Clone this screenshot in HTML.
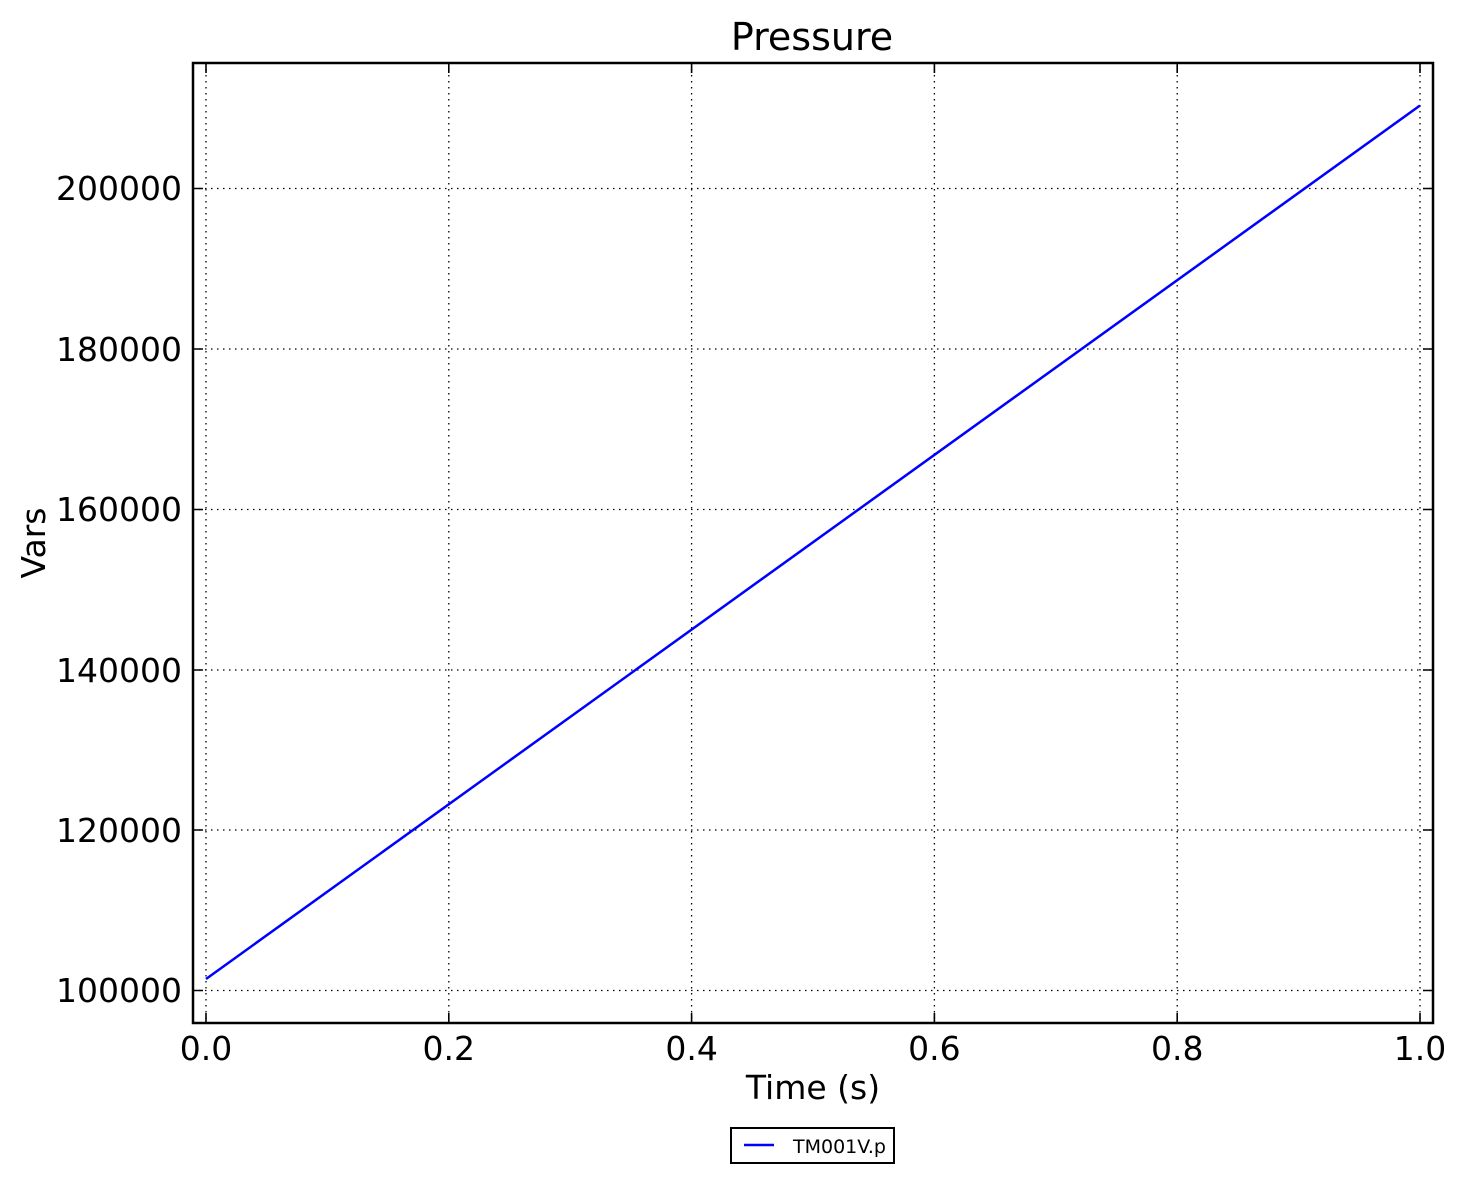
<!DOCTYPE html>
<html><head><meta charset="utf-8"><style>html,body{margin:0;padding:0;background:#fff}svg{display:block}</style></head>
<body>
<svg width="1464" height="1183" viewBox="0 0 1464 1183" xmlns="http://www.w3.org/2000/svg" font-family="DejaVu Sans, Liberation Sans, sans-serif">
<rect width="1464" height="1183" fill="#fff"/>
<g stroke="#000" stroke-width="1.3" stroke-dasharray="1.5,4.5" fill="none">
<line x1="206" y1="63" x2="206" y2="1023"/>
<line x1="448.8" y1="63" x2="448.8" y2="1023"/>
<line x1="691.6" y1="63" x2="691.6" y2="1023"/>
<line x1="934.4" y1="63" x2="934.4" y2="1023"/>
<line x1="1177.2" y1="63" x2="1177.2" y2="1023"/>
<line x1="1420" y1="63" x2="1420" y2="1023"/>
<line x1="193" y1="188.5" x2="1433" y2="188.5"/>
<line x1="193" y1="349" x2="1433" y2="349"/>
<line x1="193" y1="509.5" x2="1433" y2="509.5"/>
<line x1="193" y1="670" x2="1433" y2="670"/>
<line x1="193" y1="830" x2="1433" y2="830"/>
<line x1="193" y1="990.5" x2="1433" y2="990.5"/>
</g>
<g stroke="#000" stroke-width="1.6">
<path d="M206 1023v-10M448.8 1023v-10M691.6 1023v-10M934.4 1023v-10M1177.2 1023v-10M1420 1023v-10"/>
<path d="M206 63v10M448.8 63v10M691.6 63v10M934.4 63v10M1177.2 63v10M1420 63v10"/>
<path d="M193 188.5h10M193 349h10M193 509.5h10M193 670h10M193 830h10M193 990.5h10"/>
<path d="M1433 188.5h-10M1433 349h-10M1433 509.5h-10M1433 670h-10M1433 830h-10M1433 990.5h-10"/>
</g>
<line x1="206" y1="979" x2="1420" y2="105.5" stroke="#0000ff" stroke-width="2.5"/>
<rect x="193" y="63" width="1240" height="960" fill="none" stroke="#000" stroke-width="2.5"/>
<g font-size="33" fill="#000" text-anchor="end">
<text x="182" y="200">200000</text>
<text x="182" y="361">180000</text>
<text x="182" y="521">160000</text>
<text x="182" y="682">140000</text>
<text x="182" y="842">120000</text>
<text x="182" y="1002">100000</text>
</g>
<g font-size="33" fill="#000" text-anchor="middle">
<text x="206" y="1060">0.0</text>
<text x="448.8" y="1060">0.2</text>
<text x="691.6" y="1060">0.4</text>
<text x="934.4" y="1060">0.6</text>
<text x="1177.2" y="1060">0.8</text>
<text x="1420" y="1060">1.0</text>
<text x="813" y="1099">Time (s)</text>
<text x="812" y="50" font-size="38">Pressure</text>
<text transform="translate(45,543) rotate(-90)">Vars</text>
</g>
<rect x="731" y="1128" width="163" height="35" fill="#fff" stroke="#000" stroke-width="2"/>
<line x1="744" y1="1145" x2="774" y2="1145" stroke="#0000ff" stroke-width="2.5"/>
<text x="793" y="1153" font-size="19" fill="#000">TM001V.p</text>
</svg>
</body></html>
